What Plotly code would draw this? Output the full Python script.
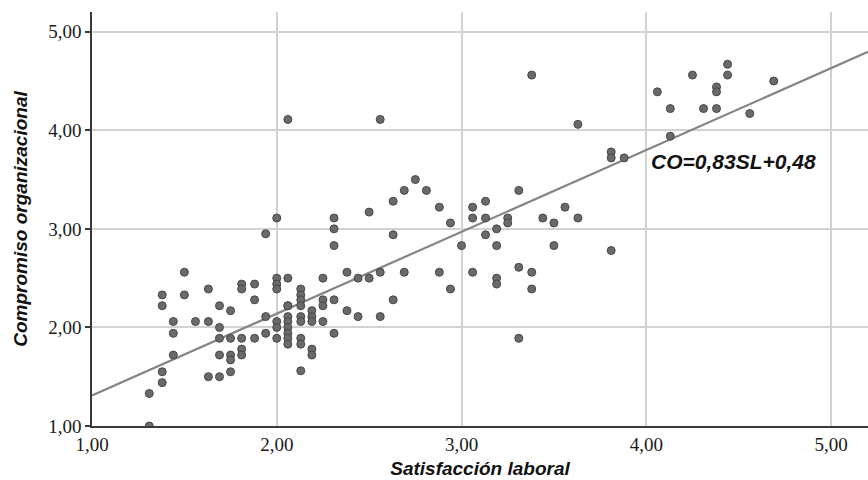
import plotly.graph_objects as go

# Satisfacción laboral (x) and Compromiso organizacional (y)
sat_laboral = [
    1.50, 1.38, 1.38, 1.50, 1.44, 1.44, 1.44, 1.38, 1.38, 1.31, 1.31,
    1.56, 1.63, 1.63, 1.63, 1.69, 1.69, 1.69, 1.69, 1.69,
    1.75, 1.75, 1.75, 1.75, 1.75,
    1.81, 1.81, 1.81, 1.81, 1.81,
    1.88, 1.88, 1.88, 1.94, 1.94, 1.94,
    2.00, 2.00, 2.00, 2.00, 2.00, 2.00, 2.00,
    2.06, 2.06, 2.06, 2.06, 2.06, 2.06, 2.06, 2.06, 2.06, 2.06,
    2.13, 2.13, 2.13, 2.13, 2.13, 2.13, 2.13, 2.13, 2.13,
    2.19, 2.19, 2.19, 2.19, 2.19,
    2.25, 2.25, 2.25, 2.25,
    2.31, 2.31, 2.31, 2.31, 2.31,
    2.38, 2.38, 2.44, 2.44, 2.50, 2.50, 2.56, 2.56, 2.56,
    2.63, 2.63, 2.63, 2.69, 2.69, 2.75, 2.81, 2.88, 2.88, 2.94, 2.94,
    3.00, 3.06, 3.06, 3.06, 3.13, 3.13, 3.13, 3.19, 3.19, 3.19, 3.19,
    3.25, 3.25, 3.31, 3.31, 3.31, 3.38, 3.38, 3.38,
    3.44, 3.50, 3.50, 3.56, 3.63, 3.63,
    3.81, 3.81, 3.81, 3.88,
    4.06, 4.13, 4.13, 4.25, 4.31, 4.38, 4.38, 4.38, 4.44, 4.44, 4.56, 4.69,
]
comp_org = [
    2.56, 2.33, 2.22, 2.33, 2.06, 1.94, 1.72, 1.55, 1.44, 1.33, 1.00,
    2.06, 2.06, 2.39, 1.50, 2.22, 2.00, 1.89, 1.72, 1.50,
    2.17, 1.89, 1.72, 1.67, 1.55,
    2.44, 2.39, 1.89, 1.78, 1.72,
    2.44, 2.28, 1.89, 2.95, 2.11, 1.94,
    3.11, 2.50, 2.44, 2.39, 2.06, 2.00, 1.89,
    4.11, 2.50, 2.22, 2.11, 2.06, 2.00, 1.94, 1.89, 1.83, 2.22,
    2.39, 2.33, 2.28, 2.22, 2.11, 2.06, 1.89, 1.83, 1.56,
    2.17, 2.11, 2.06, 1.78, 1.72,
    2.50, 2.28, 2.22, 2.06,
    3.11, 3.00, 2.83, 2.28, 1.94,
    2.56, 2.17, 2.50, 2.11, 3.17, 2.50, 4.11, 2.56, 2.11,
    3.28, 2.94, 2.28, 3.39, 2.56, 3.50, 3.39, 3.22, 2.56, 3.06, 2.39,
    2.83, 3.22, 3.11, 2.56, 3.28, 3.11, 2.94, 3.00, 2.83, 2.50, 2.44,
    3.11, 3.06, 3.39, 2.61, 1.89, 4.56, 2.56, 2.39,
    3.11, 3.06, 2.83, 3.22, 4.06, 3.11,
    3.78, 3.72, 2.78, 3.72,
    4.39, 4.22, 3.94, 4.56, 4.22, 4.44, 4.39, 4.22, 4.67, 4.56, 4.17, 4.50,
]

# Fitted regression line CO = slope*SL + intercept
slope = 0.83
intercept = 0.48
line_x = [1.0, 5.2]
line_y = [slope * v + intercept for v in line_x]

tick_vals = [1, 2, 3, 4, 5]
tick_text = ["1,00", "2,00", "3,00", "4,00", "5,00"]

fig = go.Figure()
fig.add_trace(go.Scatter(
    x=line_x, y=line_y, mode="lines",
    line=dict(color="#858585", width=2.2),
    hoverinfo="skip", showlegend=False,
))
fig.add_trace(go.Scatter(
    x=sat_laboral, y=comp_org, mode="markers",
    marker=dict(size=8, color="#6a6a6a", line=dict(color="#474747", width=1)),
    showlegend=False,
))

fig.add_annotation(
    x=4.47, y=3.68, xref="x", yref="y",
    text="<b><i>CO=0,83SL+0,48</i></b>", showarrow=False,
    font=dict(family="Liberation Sans, Arial", size=21, color="#111111"),
)

axis_common = dict(
    range=[1, 5.2], tickvals=tick_vals, ticktext=tick_text,
    showgrid=True, gridcolor="#d2d2d2", gridwidth=1.5,
    showline=True, linecolor="#3a3a3a", linewidth=1.6,
    zeroline=False, mirror=False,
    tickfont=dict(family="Liberation Serif, Times New Roman", size=19, color="#1a1a1a"),
)

fig.update_xaxes(
    **axis_common,
    ticks="", ticklen=0,
    title=dict(text="<b><i>Satisfacción laboral</i></b>",
               font=dict(family="Liberation Sans, Arial", size=19, color="#111111"),
               standoff=8),
)
fig.update_yaxes(
    **axis_common,
    ticks="outside", ticklen=5, tickcolor="#3a3a3a", tickwidth=1.5,
    title=dict(text="<b><i>Compromiso organizacional</i></b>",
               font=dict(family="Liberation Sans, Arial", size=19, color="#111111"),
               standoff=16),
)

fig.update_layout(
    width=868, height=480,
    margin=dict(l=92, r=0, t=12, b=54),
    plot_bgcolor="white", paper_bgcolor="white",
)

fig.write_html(
    "out.html",
    config={"displayModeBar": False},
    post_script="document.body.style.margin='0';document.body.style.overflow='hidden';",
)
